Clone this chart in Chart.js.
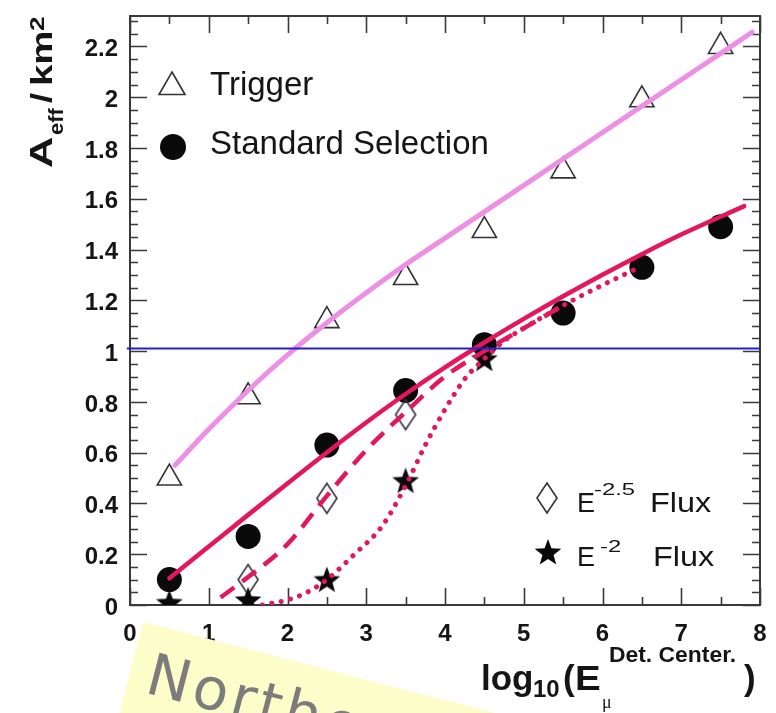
<!DOCTYPE html>
<html>
<head>
<meta charset="utf-8">
<script src="https://cdn.jsdelivr.net/npm/chart.js@4.4.1/dist/chart.umd.min.js"></script>
<style>
  html, body { margin: 0; padding: 0; background: #ffffff; overflow: hidden; }
  canvas { display: block; }
</style>
</head>
<body>
<canvas id="chart" width="776" height="713"></canvas>
<script>
// Effective area (km^2) versus log10 of the muon energy at the detector centre

// measured points, one per energy bin
const energyBins   = [0.5, 1.5, 2.5, 3.5, 4.5, 5.5, 6.5, 7.5];
const triggerArea  = [0.50, 0.82, 1.12, 1.29, 1.475, 1.71, 1.99, 2.20];
const standardArea = [0.10, 0.27, 0.63, 0.845, 1.025, 1.15, 1.33, 1.49];

const softFluxBins = [1.5, 2.5, 3.5];           // E^-2.5 spectrum
const softFluxArea = [0.10, 0.42, 0.75];
const hardFluxBins = [0.5, 1.5, 2.5, 3.5, 4.5]; // E^-2 spectrum
const hardFluxArea = [0.01, 0.02, 0.10, 0.49, 0.97];

// smooth fitted curves
const triggerFitX = [0.57, 1.0, 1.5, 2.0, 2.5, 3.0, 3.5, 4.0, 5.0, 6.0, 7.0, 7.9];
const triggerFitY = [0.55, 0.692, 0.845, 0.985, 1.112, 1.23, 1.341, 1.445, 1.653, 1.861, 2.069, 2.256];
const standardFitX = [0.5, 1.0, 1.5, 2.0, 2.5, 3.0, 3.5, 4.0, 4.5, 5.0, 5.5, 6.0, 6.5, 7.0, 7.8];
const standardFitY = [0.105, 0.23, 0.355, 0.479, 0.601, 0.719, 0.831, 0.936, 1.034, 1.127, 1.216, 1.301, 1.382, 1.459, 1.571];
const softFitX = [1.15, 1.5, 2.0, 2.5, 3.0, 3.5, 4.0, 4.5, 5.0, 5.5];
const softFitY = [0.03, 0.11, 0.24, 0.43, 0.61, 0.76, 0.90, 1.00, 1.09, 1.18];
const hardFitX = [1.68, 2.0, 2.25, 2.5, 2.85, 3.2, 3.5, 3.75, 4.0, 4.25, 4.5, 4.75, 5.0, 5.5, 6.0, 6.4];
const hardFitY = [0.0, 0.02, 0.05, 0.10, 0.20, 0.31, 0.47, 0.63, 0.77, 0.89, 0.97, 1.04, 1.09, 1.18, 1.26, 1.32];

// reference level
const unitLevelX = [-0.04, 8];
const unitLevelY = [1.01, 1.01];

// axis labels
const xTickLabels = ['0', '1', '2', '3', '4', '5', '6', '7', '8'];
const yTickStep = 0.2;

const pts = (xs, ys) => xs.map((x, i) => ({ x: x, y: ys[i] }));

const SANS = '"Liberation Sans", Arial, Helvetica, sans-serif';
const INK = '#151515';
const FIT_RED = '#e4175c';
const FIT_VIOLET = '#ee8fe6';

// filled five-pointed star marker
function makeStar(R) {
  const c = document.createElement('canvas');
  const s = Math.ceil(R * 2 + 2);
  c.width = s; c.height = s;
  const g = c.getContext('2d');
  const cx = s / 2, cy = s / 2 + R * 0.08, r = R * 0.42;
  g.beginPath();
  for (let i = 0; i < 10; i++) {
    const rad = (i % 2 === 0) ? R : r;
    const a = -Math.PI / 2 + i * Math.PI / 5;
    const px = cx + rad * Math.cos(a), py = cy + rad * Math.sin(a);
    if (i === 0) g.moveTo(px, py); else g.lineTo(px, py);
  }
  g.closePath();
  g.fillStyle = '#0a0a0a';
  g.fill();
  return c;
}

// open, tall diamond marker
function makeDiamond(w, h) {
  const c = document.createElement('canvas');
  c.width = w + 4; c.height = h + 4;
  const g = c.getContext('2d');
  const cx = c.width / 2, cy = c.height / 2;
  g.beginPath();
  g.moveTo(cx, cy - h / 2);
  g.lineTo(cx + w / 2, cy);
  g.lineTo(cx, cy + h / 2);
  g.lineTo(cx - w / 2, cy);
  g.closePath();
  g.lineWidth = 1.6;
  g.strokeStyle = '#333333';
  g.stroke();
  return c;
}

const starMark = makeStar(14);
const diamondMark = makeDiamond(20, 30);

function drawText(ctx, s, x, y, size, opt) {
  opt = opt || {};
  ctx.save();
  ctx.font = (opt.weight || 'normal') + ' ' + size + 'px ' + (opt.family || SANS);
  ctx.fillStyle = opt.color || INK;
  ctx.textAlign = 'left';
  ctx.textBaseline = 'alphabetic';
  ctx.translate(x, y);
  ctx.scale(opt.sx || 1, 1);
  ctx.fillText(s, 0, 0);
  ctx.restore();
}

// box frame with inward ticks on all four sides
const frameTicks = {
  id: 'frameTicks',
  beforeDatasetsDraw(chart) {
    const { ctx, chartArea: a, scales: { x, y } } = chart;
    ctx.save();
    ctx.strokeStyle = '#3a3a3a';
    ctx.lineWidth = 2;
    ctx.strokeRect(a.left, a.top, a.right - a.left, a.bottom - a.top);
    ctx.lineWidth = 1.6;
    ctx.beginPath();
    for (let k = 0; k <= 16; k++) {
      const v = k * 0.5;
      const px = Math.round(x.getPixelForValue(v)) + 0.5;
      const len = k % 2 === 0 ? 17 : 8;
      ctx.moveTo(px, a.bottom); ctx.lineTo(px, a.bottom - len);
      ctx.moveTo(px, a.top); ctx.lineTo(px, a.top + len);
    }
    for (let k = 0; k * 0.05 <= y.max + 1e-9; k++) {
      const py = Math.round(y.getPixelForValue(k * 0.05)) + 0.5;
      const len = k % 4 === 0 ? 17 : 8;
      ctx.moveTo(a.left, py); ctx.lineTo(a.left + len, py);
      ctx.moveTo(a.right, py); ctx.lineTo(a.right - len, py);
    }
    ctx.stroke();
    ctx.restore();
  }
};

// legends, axis titles and the sticky note
const annotations = {
  id: 'annotations',
  afterDraw(chart) {
    const ctx = chart.ctx;

    // upper legend
    ctx.save();
    ctx.beginPath();
    const tr = 15, tx = 172, ty = 87;
    ctx.moveTo(tx, ty - tr);
    ctx.lineTo(tx + tr * Math.sin(2 * Math.PI / 3), ty + tr / 2);
    ctx.lineTo(tx - tr * Math.sin(2 * Math.PI / 3), ty + tr / 2);
    ctx.closePath();
    ctx.lineWidth = 1.6;
    ctx.strokeStyle = '#333333';
    ctx.stroke();
    ctx.beginPath();
    ctx.arc(173, 147, 13, 0, Math.PI * 2);
    ctx.fillStyle = '#0a0a0a';
    ctx.fill();
    ctx.restore();
    drawText(ctx, 'Trigger', 210, 95, 33);
    drawText(ctx, 'Standard Selection', 210, 154, 33);

    // lower legend
    ctx.drawImage(diamondMark, 547 - diamondMark.width / 2, 498 - diamondMark.height / 2);
    ctx.drawImage(starMark, 548 - starMark.width / 2, 552 - starMark.height / 2);
    drawText(ctx, 'E', 577, 512, 27);
    drawText(ctx, '-2.5', 594, 495, 17, { sx: 1.4 });
    drawText(ctx, 'Flux', 650, 512, 27, { sx: 1.2 });
    drawText(ctx, 'E', 577, 566, 27);
    drawText(ctx, '-2', 600, 552, 17, { sx: 1.4 });
    drawText(ctx, 'Flux', 653, 566, 27, { sx: 1.2 });

    // x-axis title
    drawText(ctx, 'log', 481, 690, 35, { weight: 'bold' });
    drawText(ctx, '10', 533, 697, 24, { weight: 'bold' });
    drawText(ctx, '(', 563, 690, 35, { weight: 'bold' });
    drawText(ctx, 'E', 575, 690, 35, { weight: 'bold', sx: 1.1 });
    drawText(ctx, '\u03bc', 602, 708, 18, { family: '"Liberation Serif", "Times New Roman", serif' });
    drawText(ctx, 'Det. Center.', 609, 662, 22, { weight: 'bold', sx: 1.04 });
    drawText(ctx, ')', 744, 690, 35, { weight: 'bold' });

    // y-axis title, read bottom to top
    ctx.save();
    ctx.translate(52, 168);
    ctx.rotate(-Math.PI / 2);
    drawText(ctx, 'A', 0, 0, 31, { weight: 'bold', sx: 1.4 });
    drawText(ctx, 'eff', 33, 11, 20, { weight: 'bold', sx: 1.1 });
    drawText(ctx, '/', 65, 0, 30, { weight: 'bold', sx: 1.2 });
    drawText(ctx, 'km', 82, 0, 30, { weight: 'bold', sx: 1.28 });
    drawText(ctx, '2', 137, -8, 20, { weight: 'bold', sx: 1.3 });
    ctx.restore();

    // sticky note in the lower left corner
    ctx.save();
    ctx.translate(143, 622);
    ctx.rotate(14.5 * Math.PI / 180);
    ctx.fillStyle = '#fdfdc9';
    ctx.fillRect(0, 0, 700, 320);
    ctx.font = '58px "Comic Sans MS", "DejaVu Sans", sans-serif';
    if ('letterSpacing' in ctx) ctx.letterSpacing = '4px';
    ctx.fillStyle = '#7c7c7c';
    ctx.textBaseline = 'alphabetic';
    ctx.fillText('Northern', 18, 68);
    ctx.restore();
  }
};

const markerBase = { showLine: false, order: 2 };
const fitBase = { showLine: true, pointRadius: 0, order: 1, cubicInterpolationMode: 'monotone', fill: false };

// keep the plot box exactly where the layout padding puts it
const fixedAxisSize = (size) => (s) => {
  if (s.isHorizontal()) { s.height = size; } else { s.width = size; }
  s.paddingTop = 0; s.paddingBottom = 0; s.paddingLeft = 0; s.paddingRight = 0;
};

new Chart(document.getElementById('chart'), {
  type: 'scatter',
  data: {
    datasets: [
      Object.assign({}, fitBase, {
        label: 'unit level', data: pts(unitLevelX, unitLevelY),
        borderColor: '#2222cc', borderWidth: 2, order: 0, cubicInterpolationMode: 'default', tension: 0,
        clip: { left: 5, right: 0, top: 0, bottom: 0 }
      }),
      Object.assign({}, fitBase, {
        label: 'Standard Selection fit', data: pts(standardFitX, standardFitY),
        borderColor: FIT_RED, borderWidth: 4.5, borderCapStyle: 'round'
      }),
      Object.assign({}, fitBase, {
        label: 'E-2.5 fit', data: pts(softFitX, softFitY),
        borderColor: FIT_RED, borderWidth: 4.5, borderDash: [17, 10]
      }),
      Object.assign({}, fitBase, {
        label: 'E-2 fit', data: pts(hardFitX, hardFitY),
        borderColor: FIT_RED, borderWidth: 5, borderDash: [0.1, 9.5], borderCapStyle: 'round'
      }),
      Object.assign({}, fitBase, {
        label: 'Trigger fit', data: pts(triggerFitX, triggerFitY),
        borderColor: FIT_VIOLET, borderWidth: 5, borderCapStyle: 'round'
      }),
      Object.assign({}, markerBase, {
        label: 'E-2 Flux', data: pts(hardFluxBins, hardFluxArea),
        pointStyle: starMark, pointRadius: 14
      }),
      Object.assign({}, markerBase, {
        label: 'E-2.5 Flux', data: pts(softFluxBins, softFluxArea),
        pointStyle: diamondMark, pointRadius: 15
      }),
      Object.assign({}, markerBase, {
        label: 'Standard Selection', data: pts(energyBins, standardArea),
        pointStyle: 'circle', pointRadius: 12.5, backgroundColor: '#0a0a0a', borderColor: '#0a0a0a', borderWidth: 0
      }),
      Object.assign({}, markerBase, {
        label: 'Trigger', data: pts(energyBins, triggerArea),
        pointStyle: 'triangle', pointRadius: 14, backgroundColor: 'rgba(0,0,0,0)', borderColor: '#333333', borderWidth: 1.6
      })
    ]
  },
  options: {
    responsive: false,
    animation: false,
    events: [],
    layout: { padding: { top: 12, right: 13, left: 0, bottom: 0 } },
    plugins: { legend: { display: false }, tooltip: { enabled: false } },
    scales: {
      x: {
        type: 'linear', min: 0, max: 8,
        border: { display: false },
        grid: { display: false, drawTicks: false },
        ticks: {
          stepSize: 1, padding: 17, color: INK,
          font: { family: SANS, size: 24, weight: 'bold', lineHeight: 1 },
          maxRotation: 0, autoSkip: false,
          callback: (v) => xTickLabels[Math.round(v)]
        },
        afterFit: fixedAxisSize(108)
      },
      y: {
        type: 'linear', min: 0, max: 2.32,
        border: { display: false },
        grid: { display: false, drawTicks: false },
        ticks: {
          stepSize: yTickStep, includeBounds: false, padding: 12, color: INK, labelOffset: 3,
          font: { family: SANS, size: 24, weight: 'bold', lineHeight: 1 },
          autoSkip: false,
          callback: (v) => String(Math.round(v * 10) / 10)
        },
        afterFit: fixedAxisSize(130)
      }
    }
  },
  plugins: [frameTicks, annotations]
});
</script>
</body>
</html>
